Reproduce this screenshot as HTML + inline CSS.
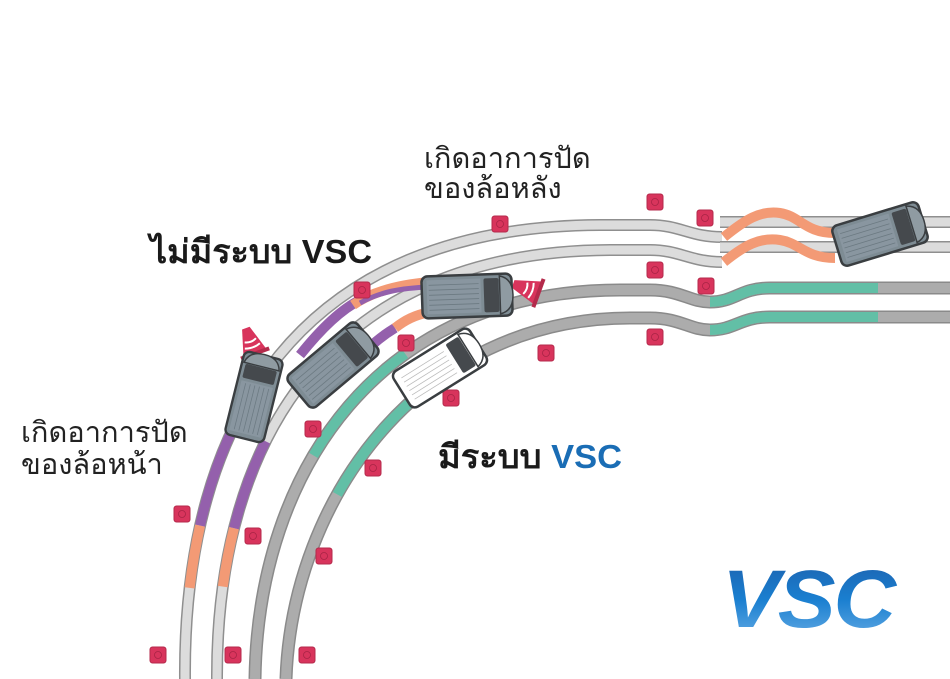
<!DOCTYPE html>
<html><head><meta charset="utf-8"><style>
html,body{margin:0;padding:0;background:#fff;}
svg{display:block;}
text{font-family:"Liberation Sans","Noto Sans CJK SC",sans-serif;}
</style></head><body>
<svg width="950" height="679" viewBox="0 0 950 679" xmlns="http://www.w3.org/2000/svg">
<defs>
<linearGradient id="vg" x1="0" y1="0" x2="0" y2="1">
<stop offset="0" stop-color="#1d5fab"/><stop offset="0.5" stop-color="#1a7fd0"/><stop offset="1" stop-color="#6aaee6"/>
</linearGradient>
<g id="car">
<rect x="-45" y="-21" width="90" height="42" rx="6" fill="#7e8c94" stroke="#3a3e41" stroke-width="2.5"/>
<rect x="-40" y="-17" width="54" height="34" fill="#8996a0"/>
<g stroke="#6c7a82" stroke-width="0.8">
<line x1="-38" y1="-12" x2="12" y2="-12"/><line x1="-38" y1="-7" x2="12" y2="-7"/><line x1="-38" y1="-2" x2="12" y2="-2"/><line x1="-38" y1="3" x2="12" y2="3"/><line x1="-38" y1="8" x2="12" y2="8"/><line x1="-38" y1="13" x2="12" y2="13"/></g>
<rect x="17" y="-17" width="15" height="34" rx="2" fill="#45494d"/>
<path d="M33 -19 Q46 -16 46 0 Q46 16 33 19 Z" fill="#8f9ba2" stroke="#3a3e41" stroke-width="1.5"/>
</g>
<g id="wcar">
<rect x="-45" y="-21" width="90" height="42" rx="6" fill="#fff" stroke="#3a3e41" stroke-width="2.5"/>
<g stroke="#bbb" stroke-width="0.8">
<line x1="-38" y1="-12" x2="12" y2="-12"/><line x1="-38" y1="-7" x2="12" y2="-7"/><line x1="-38" y1="-2" x2="12" y2="-2"/><line x1="-38" y1="3" x2="12" y2="3"/><line x1="-38" y1="8" x2="12" y2="8"/><line x1="-38" y1="13" x2="12" y2="13"/></g>
<rect x="17" y="-17" width="15" height="34" rx="2" fill="#45494d"/>
<path d="M33 -19 Q46 -16 46 0 Q46 16 33 19 Z" fill="#fff" stroke="#3a3e41" stroke-width="1.5"/>
</g>
<g id="cone">
<rect x="-8" y="-8" width="16" height="16" rx="2.5" fill="#d8345c" stroke="#b42a4b" stroke-width="1"/>
<circle cx="0" cy="0" r="3.5" fill="none" stroke="#a82445" stroke-width="0.8"/>
</g>
</defs>

<g fill="none" stroke-linecap="butt">
<path d="M185 679 C 183 420, 300 226, 600 225 L650 225 C 680 225, 690 237, 722 237" stroke="#8f8f8f" stroke-width="12"/>
<path d="M185 679 C 183 420, 300 226, 600 225 L650 225 C 680 225, 690 237, 722 237" stroke="#dcdcdc" stroke-width="9"/>
<path d="M217 679 C 216 440, 330 251, 610 250 L650 250 C 680 250, 690 262, 722 262" stroke="#8f8f8f" stroke-width="12"/>
<path d="M217 679 C 216 440, 330 251, 610 250 L650 250 C 680 250, 690 262, 722 262" stroke="#dcdcdc" stroke-width="9"/>
<path d="M720 222 L950 222 M720 247 L950 247" stroke="#8f8f8f" stroke-width="12"/>
<path d="M720 222 L950 222 M720 247 L950 247" stroke="#dcdcdc" stroke-width="9"/>

<path d="M255 679 C 258 470, 380 290, 620 290 L650 290 C 680 290, 690 302, 710 302 C 735 302, 740 288, 770 288 L950 288" stroke="#8a8a8a" stroke-width="13"/>
<path d="M255 679 C 258 470, 380 290, 620 290 L650 290 C 680 290, 690 302, 710 302 C 735 302, 740 288, 770 288 L950 288" stroke="#acacac" stroke-width="10"/>
<path d="M286 679 C 292 500, 420 318, 630 318 L650 318 C 680 318, 690 330, 710 330 C 735 330, 740 317, 770 317 L950 317" stroke="#8a8a8a" stroke-width="13"/>
<path d="M286 679 C 292 500, 420 318, 630 318 L650 318 C 680 318, 690 330, 710 330 C 735 330, 740 317, 770 317 L950 317" stroke="#acacac" stroke-width="10"/>

<path d="M710 302 C 735 302, 740 288, 770 288 L878 288 M710 330 C 735 330, 740 317, 770 317 L878 317" stroke="#62bfa6" stroke-width="10"/>
<path d="M255 679 C 258 470, 380 290, 620 290" pathLength="100" stroke-dasharray="0 39 23 200" stroke="#62bfa6" stroke-width="10"/>
<path d="M286 679 C 292 500, 420 318, 630 318" pathLength="100" stroke-dasharray="0 35 25 200" stroke="#62bfa6" stroke-width="10"/>

<path d="M724 237 C 745 220, 760 210, 780 213 C 800 216, 805 233, 835 233" stroke="#f39a75" stroke-width="10"/>
<path d="M724 262 C 745 245, 760 237, 780 240 C 800 243, 805 258, 835 258" stroke="#f39a75" stroke-width="10"/>

<path d="M185 679 C 183 420, 300 226, 600 225" pathLength="100" stroke-dasharray="0 13 9 200" stroke="#f39a75" stroke-width="10"/>
<path d="M185 679 C 183 420, 300 226, 600 225" pathLength="100" stroke-dasharray="0 22 16 200" stroke="#9460ac" stroke-width="10"/>
<path d="M217 679 C 216 440, 330 251, 610 250" pathLength="100" stroke-dasharray="0 14 9 200" stroke="#f39a75" stroke-width="10"/>
<path d="M217 679 C 216 440, 330 251, 610 250" pathLength="100" stroke-dasharray="0 23 14 200" stroke="#9460ac" stroke-width="10"/>

<path d="M300 355 C 320 330, 340 310, 360 300" stroke="#9460ac" stroke-width="10"/>
<path d="M353 305 C 370 293, 395 285, 430 282" stroke="#f39a75" stroke-width="10"/>
<path d="M360 303 C 380 292, 400 288, 430 287" stroke="#9460ac" stroke-width="5"/>
<path d="M340 380 C 360 355, 375 340, 395 328" stroke="#9460ac" stroke-width="10"/>
<path d="M395 328 C 405 320, 415 315, 430 312" stroke="#f39a75" stroke-width="10"/>
</g>

<use href="#cone" x="500" y="224"/><use href="#cone" x="655" y="202"/><use href="#cone" x="705" y="218"/>
<use href="#cone" x="655" y="270"/><use href="#cone" x="706" y="286"/><use href="#cone" x="655" y="337"/>
<use href="#cone" x="546" y="353"/><use href="#cone" x="406" y="343"/><use href="#cone" x="362" y="290"/>
<use href="#cone" x="451" y="398"/><use href="#cone" x="373" y="468"/><use href="#cone" x="313" y="429"/>
<use href="#cone" x="253" y="536"/><use href="#cone" x="182" y="514"/><use href="#cone" x="324" y="556"/>
<use href="#cone" x="158" y="655"/><use href="#cone" x="233" y="655"/><use href="#cone" x="307" y="655"/>

<g transform="translate(252,345) rotate(-20)">
<path d="M-4 -18 L4 -18 L12 8 L-12 8 Z" fill="#d8345c"/>
<path d="M-6 -5 Q0 -2 6 -5 M-8 1 Q0 4 8 1" stroke="#fff" stroke-width="2" fill="none"/>
<rect x="-15" y="7" width="30" height="4" fill="#b42a4b"/>
</g>
<g transform="translate(530,290) rotate(-70)">
<path d="M-4 -18 L4 -18 L12 8 L-12 8 Z" fill="#d8345c"/>
<path d="M-6 -5 Q0 -2 6 -5 M-8 1 Q0 4 8 1" stroke="#fff" stroke-width="2" fill="none"/>
<rect x="-15" y="7" width="30" height="4" fill="#b42a4b"/>
</g>

<use href="#car" transform="translate(254,397) rotate(-76) scale(0.95,0.95)"/>
<use href="#car" transform="translate(333,365) rotate(-40)"/>
<use href="#car" transform="translate(467,296) rotate(-2)"/>
<use href="#wcar" transform="translate(440,368) rotate(-32)"/>
<use href="#car" transform="translate(880,234) rotate(-17)"/>

<g fill="#222" font-size="29">
<text x="424" y="168">เกิดอาการปัด</text>
<text x="424" y="198">ของล้อหลัง</text>
<text x="21" y="442">เกิดอาการปัด</text>
<text x="21" y="474">ของล้อหน้า</text>
</g>
<text x="150" y="263" font-size="33" font-weight="bold" fill="#1a1a1a" textLength="222" lengthAdjust="spacingAndGlyphs">ไม่มีระบบ VSC</text>
<text x="438" y="468" font-size="33" font-weight="bold" fill="#1a1a1a" textLength="184" lengthAdjust="spacingAndGlyphs">มีระบบ <tspan fill="#1a6db5">VSC</tspan></text>
<text x="722" y="627" font-size="82" font-weight="bold" font-style="italic" fill="url(#vg)" letter-spacing="-2" textLength="172" lengthAdjust="spacingAndGlyphs">VSC</text>
</svg>
</body></html>
